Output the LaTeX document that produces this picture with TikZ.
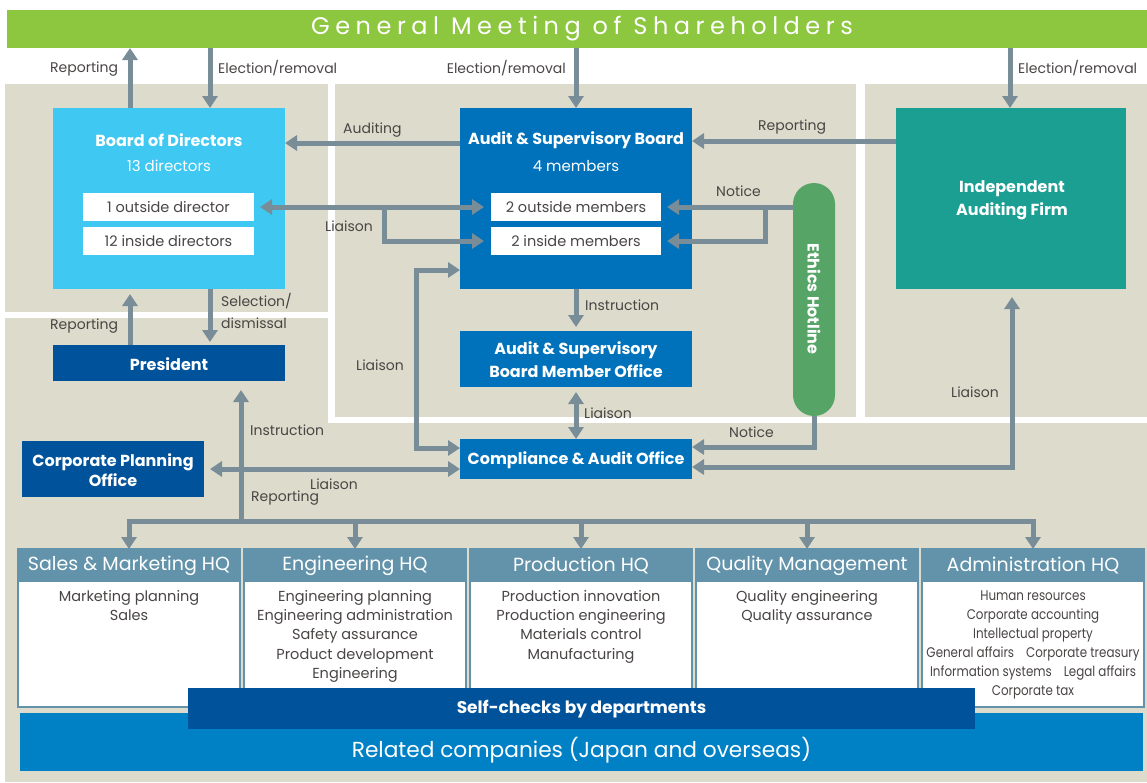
\documentclass[tikz,border=0pt]{standalone}
\usepackage{fontspec}
\setmainfont{Poppins}
\newfontfamily\spacedfont[LetterSpace=23]{Poppins}
\usetikzlibrary{arrows.meta}
\definecolor{gmsgreen}{HTML}{8DC63F}
\definecolor{bgc}{HTML}{DDDBCB}
\definecolor{bodc}{HTML}{3EC8F2}
\definecolor{asbc}{HTML}{0072BC}
\definecolor{darkc}{HTML}{00529B}
\definecolor{tealc}{HTML}{1A9F92}
\definecolor{ethc}{HTML}{56A567}
\definecolor{arrc}{HTML}{788D98}
\definecolor{hqc}{HTML}{6293AA}
\definecolor{relc}{HTML}{0081C6}
\definecolor{txtc}{HTML}{4A4545}
\begin{document}
\begin{tikzpicture}[x=1pt,y=-1pt,
  box/.style={rectangle, inner sep=0pt, outer sep=0pt},
  arr/.style={draw=arrc, line width=5pt, -{Triangle[length=12pt,width=15pt]}},
  arrb/.style={draw=arrc, line width=5pt, {Triangle[length=12pt,width=15pt]}-{Triangle[length=12pt,width=15pt]}},
  lbl/.style={text=txtc, font=\fontsize{14}{22}\selectfont, inner sep=0pt},
  wbox/.style={box, fill=white, minimum width=171pt, minimum height=28pt, text=txtc, font=\fontsize{14.5}{16}\selectfont},
  ttl/.style={text=white, font=\bfseries\fontsize{16}{23}\selectfont, inner sep=0pt, align=center},
  sub/.style={text=white, font=\fontsize{15}{18}\selectfont, inner sep=0pt},
  hqbox/.style={box, fill=white, draw=hqc, line width=1.5pt, minimum width=222pt, minimum height=158pt},
  hqhead/.style={box, fill=hqc, minimum width=222pt, minimum height=33pt, text=white, font=\fontsize{19}{21}\selectfont},
  hqtext/.style={text=txtc, font=\fontsize{14.5}{19.3}\selectfont, align=center, inner sep=0pt, anchor=north}
]
\useasboundingbox (0,0) rectangle (1147,782);
% backgrounds
\fill[bgc] (5,84) rectangle (1147,782);
\fill[white] (328,84) rectangle (335,423);
\fill[white] (856,84) rectangle (865,423);
\fill[white] (5,312) rectangle (328,318);
\fill[white] (328,417) rectangle (1147,423);

% general meeting
\node[box, fill=gmsgreen, minimum width=1140pt, minimum height=38pt] (gms) at (577,29) {};
\node[text=white, inner sep=0pt, font=\spacedfont\fontsize{24}{26}\selectfont] (gmst) at (582,29) {General Meeting of Shareholders};

% board of directors
\node[box, fill=bodc, minimum width=232pt, minimum height=181pt] (bod) at (169,198.5) {};
\node[ttl] (bodt) at (169,140) {Board of Directors};
\node[sub] (bods) at (169,166) {13 directors};
\node[wbox] (od1) at (168.5,207) {1 outside director};
\node[wbox] (id1) at (168.5,241) {12 inside directors};

% audit & supervisory board
\node[box, fill=asbc, minimum width=232pt, minimum height=181pt] (asb) at (576,198.5) {};
\node[ttl] (asbt) at (576,140) {Audit \& Supervisory Board};
\node[sub] (asbs) at (576,166) {4 members};
\node[wbox, minimum width=170pt] (om) at (576,207) {2 outside members};
\node[wbox, minimum width=170pt] (im) at (576,241) {2 inside members};

% independent auditing firm
\node[box, fill=tealc, minimum width=230pt, minimum height=181pt] (iaf) at (1011,198.5) {};
\node[ttl] (iaft) at (1012,200) {Independent\\Auditing Firm};

% ethics hotline
\node[box, fill=ethc, minimum width=42pt, minimum height=233pt, rounded corners=21pt] (eth) at (814,299.5) {};
\node[ttl, rotate=-90] (etht) at (814,299) {Ethics Hotline};

% president
\node[box, fill=darkc, minimum width=232pt, minimum height=36pt] (pres) at (169,363) {};
\node[ttl] (prest) at (169,364) {President};

% ASB member office
\node[box, fill=asbc, minimum width=232pt, minimum height=56pt] (asbo) at (576,359) {};
\node[ttl] (asbot) at (576,360) {Audit \& Supervisory\\Board Member Office};

% compliance & audit office
\node[box, fill=asbc, minimum width=232pt, minimum height=40pt] (cao) at (576,459) {};
\node[ttl] (caot) at (576,460) {Compliance \& Audit Office};

% corporate planning office
\node[box, fill=darkc, minimum width=182pt, minimum height=56pt] (cpo) at (113,469) {};
\node[ttl, font=\bfseries\fontsize{16}{20}\selectfont] (cpot) at (113,470) {Corporate Planning\\Office};

% HQ boxes
\node[hqbox] (hq1) at (129,628) {};
\node[hqhead] (hq1h) at (129,565.5) {Sales \& Marketing HQ};
\node[hqtext] (hq1t) at (129,590) {Marketing planning\\Sales};

\node[hqbox] (hq2) at (355,628) {};
\node[hqhead] (hq2h) at (355,565.5) {Engineering HQ};
\node[hqtext] (hq2t) at (355,590) {Engineering planning\\Engineering administration\\Safety assurance\\Product development\\Engineering};

\node[hqbox] (hq3) at (581,628) {};
\node[hqhead] (hq3h) at (581,565.5) {Production HQ};
\node[hqtext] (hq3t) at (581,590) {Production innovation\\Production engineering\\Materials control\\Manufacturing};

\node[hqbox] (hq4) at (807,628) {};
\node[hqhead] (hq4h) at (807,565.5) {Quality Management};
\node[hqtext] (hq4t) at (807,590) {Quality engineering\\Quality assurance};

\node[hqbox] (hq5) at (1033,628) {};
\node[hqhead] (hq5h) at (1033,565.5) {Administration HQ};
\node[hqtext, xscale=0.85, transform shape, font=\fontsize{14}{19}\selectfont] (hq5t) at (1033,591) {Human resources\\Corporate accounting\\Intellectual property\\General affairs\quad Corporate treasury\\Information systems\quad Legal affairs\\Corporate tax};

% related companies & self-checks
\node[box, fill=relc, minimum width=1123pt, minimum height=58pt] (rel) at (581.5,742) {};
\node[text=white, inner sep=0pt, font=\fontsize{21.7}{24}\selectfont] (relt) at (581.5,750) {Related companies (Japan and overseas)};
\node[box, fill=darkc, minimum width=787pt, minimum height=41pt] (self) at (581.5,708.5) {};
\node[ttl, font=\bfseries\fontsize{17}{20}\selectfont] (selft) at (581.5,709) {Self-checks by departments};

% helper coordinates
\coordinate (xa) at (130,0);
\coordinate (xb) at (210,0);
\coordinate (xc) at (1010,0);
\coordinate (xd) at (384,0);
\coordinate (xe) at (765,0);
\coordinate (xf) at (416,0);
\coordinate (xg) at (241,0);
\coordinate (xh) at (1012,0);
\coordinate (ya) at (0,143);
\coordinate (yb) at (0,141);
\coordinate (yc) at (0,270);
\coordinate (yd) at (0,448);
\coordinate (ye) at (0,447);
\coordinate (yf) at (0,467);
\coordinate (yg) at (0,521);

% connectors
\draw[arr] (bod.north -| xa) -- (gms.south -| xa);
\draw[arr] (gms.south -| xb) -- (bod.north -| xb);
\draw[arr] (gms.south -| asb.north) -- (asb.north);
\draw[arr] (gms.south -| xc) -- (iaf.north -| xc);
\draw[arr] (asb.west |- ya) -- (bod.east |- ya);
\draw[arr] (iaf.west |- yb) -- (asb.east |- yb);
\draw[arrb, shorten <=6pt, shorten >=7pt] (od1.east) -- (om.west);
\draw[arr, shorten >=7pt] (od1.east -| xd) |- (im.west);
\draw[arr, shorten >=6pt] (eth.west |- om.east) -- (om.east);
\draw[arr, shorten >=6pt] (om.east -| xe) |- (im.east);
\draw[arr, shorten >=4pt] (asb.south) -- (asbo.north);
\draw[arrb, shorten <=5pt] (asbo.south) -- (cao.north);
\draw[arr, shorten >=3pt] (bod.south -| xb) -- (pres.north -| xb);
\draw[arr, shorten >=5pt] (pres.north -| xa) -- (bod.south -| xa);
\draw[arrb] (asb.west |- yc) -- (xf |- yc) -- (xf |- yd) -- (cao.west |- yd);
\draw[arrb, shorten <=6pt] (cpo.east) -- (cpo.east -| cao.west);
\draw[arr] (xg |- yg) -| (hq1.north);
\draw[arr] (xg |- yg) -| (hq2.north);
\draw[arr] (xg |- yg) -| (hq3.north);
\draw[arr] (xg |- yg) -| (hq4.north);
\draw[arr] (xg |- yg) -| (hq5.north);
\draw[arr, shorten >=9pt] (xg |- yg) -- (pres.south -| xg);
\draw[arr] (eth.south) |- (cao.east |- ye);
\draw[arrb, shorten >=8pt] (cao.east |- yf) -| (iaf.south -| xh);

% labels
\node[lbl, anchor=west] (l1) at (50,69) {Reporting};
\node[lbl, anchor=west] (l2) at (218,68) {Election/removal};
\node[lbl, anchor=east] (l3) at (566,68) {Election/removal};
\node[lbl, anchor=west] (l4) at (1018,68) {Election/removal};
\node[lbl, anchor=west] (l5) at (343,130) {Auditing};
\node[lbl, anchor=west] (l6) at (758,127) {Reporting};
\node[lbl, anchor=west] (l7) at (716,191) {Notice};
\node[lbl, anchor=west] (l8) at (325,226) {Liaison};
\node[lbl, anchor=west] (l9) at (585,305) {Instruction};
\node[lbl, anchor=west, align=left] (l10) at (221,311) {Selection/\\dismissal};
\node[lbl, anchor=west] (l11) at (50,326) {Reporting};
\node[lbl, anchor=west] (l12) at (356,365) {Liaison};
\node[lbl, anchor=west] (l13) at (584,413) {Liaison};
\node[lbl, anchor=west] (l14) at (729,432) {Notice};
\node[lbl, anchor=west] (l15) at (951,392) {Liaison};
\node[lbl, anchor=west] (l16) at (250,430) {Instruction};
\node[lbl, anchor=west] (l17) at (310,484) {Liaison};
\node[lbl, anchor=west] (l18) at (251,498) {Reporting};
\end{tikzpicture}
\end{document}
